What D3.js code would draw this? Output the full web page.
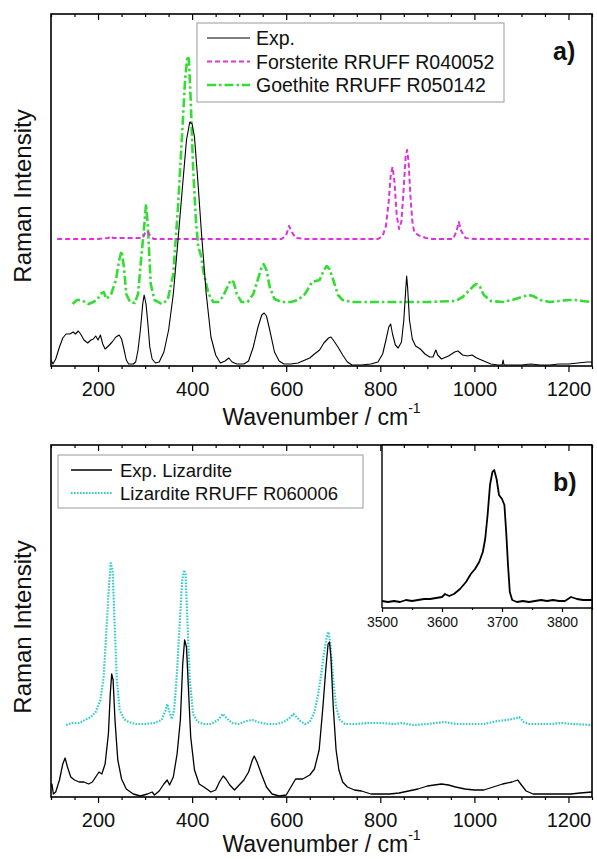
<!DOCTYPE html>
<html>
<head>
<meta charset="utf-8">
<script src="https://cdn.jsdelivr.net/npm/d3@7/dist/d3.min.js"></script>
<style>
  html, body { margin: 0; padding: 0; background: #fff; }
  svg { display: block; }
  text { font-family: Arial, "Liberation Sans", sans-serif; fill: #111; }
</style>
</head>
<body>
<svg id="chart" width="597" height="859"></svg>
<script>
// ---- Panel a): experimental spectrum and RRUFF references (wavenumber, intensity a.u.)
const expA = [
  [100,6],[104,2],[110,7],[118,19],[125,28],[132,32],[140,32],[147,34],[152,32],[158,35],[163,32],[170,26],
  [178,23],[185,26],[190,27],[195,30],[200,26],[205,31],[210,22],[215,17],[222,20],[230,24],[238,29],[245,31],
  [250,27],[255,17],[260,6],[265,2],[275,2],[280,4],[285,16],[290,36],[295,62],[298,71],[302,62],[306,42],
  [310,19],[315,7],[322,3],[330,4],[340,14],[350,36],[360,72],[370,126],[380,182],[388,226],[395,244],[400,242],
  [405,229],[412,186],[420,132],[430,72],[440,29],[450,11],[460,3],[470,5],[478,8],[485,4],[495,2],[510,2],
  [520,5],[530,19],[540,39],[548,51],[553,53],[558,50],[565,36],[575,14],[585,5],[595,2],[610,2],[625,3],
  [640,6],[650,8],[660,12],[671,16],[680,23],[690,28],[695,29],[700,26],[710,19],[720,11],[730,4],[740,1],
  [760,1],[780,2],[795,4],[805,12],[812,26],[818,39],[822,42],[826,32],[832,21],[838,18],[845,24],[850,46],
  [854,76],[856,90],[858,79],[862,46],[868,27],[875,20],[885,17],[895,12],[905,9],[912,9],[918,16],[922,11],
  [930,7],[945,10],[958,14],[965,15],[975,11],[985,10],[995,11],[1005,8],[1020,5],[1035,2],[1050,1],[1059,1],
  [1061,6],[1063,1],[1080,1],[1100,1],[1120,2],[1140,1],[1160,1],[1180,2],[1200,2],[1220,3],[1240,4],[1250,4]
];
const forsterite = [
  [113,127],[200,127],[222,128],[227,130],[232,128],[295,128],[300,133],[305,135],[310,131],[318,127],[590,127],
  [600,131],[606,140],[612,134],[620,128],[640,127],[795,127],[805,130],[812,140],[818,165],[822,190],[826,199],
  [830,185],[835,150],[840,137],[845,145],[850,180],[854,210],[857,216],[860,205],[864,170],[868,145],[872,134],
  [880,131],[897,128],[910,127],[955,127],[962,135],[967,144],[972,135],[981,128],[1000,127],[1250,127]
];
const goethite = [
  [146,62],[155,66],[165,66],[172,64],[180,62],[190,64],[198,66],[205,72],[212,74],[218,67],[228,72],[238,86],
  [245,106],[250,115],[255,99],[260,72],[268,64],[278,63],[285,72],[292,109],[298,139],[302,162],[306,139],
  [312,82],[320,66],[335,62],[348,66],[360,92],[370,159],[378,226],[385,286],[390,310],[393,307],[397,266],
  [402,199],[408,146],[413,119],[418,112],[425,92],[435,72],[445,64],[455,64],[465,69],[475,79],[482,86],
  [488,84],[495,72],[505,64],[518,64],[530,72],[540,87],[548,99],[552,102],[558,96],[565,79],[575,67],[590,64],
  [610,64],[625,66],[640,72],[655,84],[671,86],[680,96],[686,100],[692,97],[700,86],[710,71],[720,66],[740,64],
  [800,64],[900,64],[960,65],[975,69],[990,76],[1000,81],[1005,82],[1012,79],[1020,71],[1035,65],[1060,64],
  [1080,66],[1100,69],[1115,71],[1125,70],[1140,66],[1160,64],[1180,65],[1200,66],[1215,66],[1230,65],[1250,64]
];

// ---- Panel b): lizardite
const expB = [
  [100,10],[102,13],[105,3],[110,5],[118,17],[125,33],[130,39],[135,30],[142,20],[150,17],[160,15],[170,15],
  [180,13],[188,15],[195,20],[202,25],[208,23],[215,33],[222,63],[226,103],[229,123],[232,117],[236,77],[242,37],
  [250,18],[260,8],[275,3],[290,1],[305,3],[315,5],[320,2],[330,6],[340,13],[347,17],[352,12],[360,20],[368,43],
  [375,77],[380,133],[384,157],[388,150],[392,110],[397,60],[405,27],[415,13],[425,10],[440,5],[450,7],[458,15],
  [466,21],[472,18],[480,12],[490,7],[500,12],[510,17],[520,25],[528,37],[532,41],[538,35],[548,22],[558,10],
  [570,3],[585,1],[600,2],[610,10],[620,18],[635,18],[650,22],[660,28],[670,47],[678,90],[684,127],[689,153],
  [692,155],[695,140],[700,90],[706,47],[712,27],[720,15],[730,10],[745,7],[760,6],[780,3],[800,3],[820,3],
  [840,4],[860,6],[880,8],[900,11],[915,12],[930,13],[945,12],[960,10],[980,8],[1000,7],[1020,7],[1040,10],
  [1060,13],[1080,15],[1092,17],[1100,12],[1110,6],[1125,3],[1145,3],[1165,3],[1185,3],[1205,3],[1225,4],[1250,5]
];
const lizardite = [
  [132,72],[145,74],[160,74],[172,77],[185,80],[195,85],[205,97],[212,120],[218,167],[223,210],[227,234],
  [231,227],[235,177],[240,117],[246,87],[255,78],[265,75],[280,73],[300,73],[320,74],[335,77],[343,86],[347,93],
  [352,85],[357,78],[362,88],[368,127],[374,177],[379,217],[383,227],[386,223],[390,177],[395,117],[402,83],
  [412,75],[425,73],[440,73],[455,77],[465,83],[475,78],[485,74],[500,73],[515,76],[528,77],[540,75],[560,73],
  [580,73],[595,75],[605,78],[615,83],[622,80],[630,76],[640,73],[650,75],[660,85],[668,103],[675,125],[680,143],
  [686,160],[690,165],[694,153],[700,117],[706,90],[714,77],[725,73],[750,73],[775,74],[800,74],[830,73],
  [845,74],[870,72],[900,73],[935,75],[960,73],[990,73],[1020,73],[1050,76],[1070,77],[1090,79],[1095,80],
  [1105,75],[1115,73],[1140,73],[1165,73],[1185,74],[1210,73],[1250,72]
];
// O-H stretching region (inset)
const expOH = [
  [3500,7],[3510,6],[3520,7],[3530,6],[3540,8],[3550,7],[3560,8],[3570,9],[3580,9],[3590,10],[3600,11],
  [3605,14],[3612,12],[3620,14],[3630,19],[3640,26],[3648,34],[3655,39],[3662,46],[3668,56],[3672,69],[3676,93],
  [3680,123],[3684,136],[3687,138],[3691,129],[3695,113],[3700,109],[3704,103],[3707,76],[3710,43],[3713,16],
  [3717,8],[3725,6],[3735,7],[3745,6],[3755,7],[3765,8],[3775,7],[3785,8],[3795,7],[3805,7],[3815,11],[3825,9],
  [3835,8],[3850,8]
];

// Axis ticks and labels
const xDomain = [100, 1250];
const xMajor = [200, 400, 600, 800, 1000, 1200];
const xMinor = d3.range(100, 1251, 50).filter(v => !xMajor.includes(v));
const insetDomain = [3500, 3850];
const insetMajor = [3500, 3600, 3700, 3800];
const insetMinor = [3550, 3650, 3750, 3850];
const yTitle = "Raman Intensity";

// Series styles
const styles = {
  exp:   { stroke: "#000", width: 1.1, dash: null },
  fo:    { stroke: "#dd33dd", width: 2, dash: "5,3" },
  goe:   { stroke: "#33dd33", width: 2.6, dash: "9,3,2.5,3" },
  liz:   { stroke: "#33cccc", width: 2.2, dash: "1.6,1.4" }
};

const svg = d3.select("#chart");
const L = 51, R = 592;
const x = d3.scaleLinear().domain(xDomain).range([L, R]);
const line = (xs, ys) => d3.line().x(d => xs(d[0])).y(d => ys(d[1])).curve(d3.curveLinear);

function drawSeries(g, data, xs, ys, st) {
  const p = g.append("path").datum(data)
    .attr("d", line(xs, ys))
    .attr("fill", "none")
    .attr("stroke", st.stroke)
    .attr("stroke-width", st.width)
    .attr("stroke-linejoin", "round");
  if (st.dash) p.attr("stroke-dasharray", st.dash);
}

function styleAxis(g) {
  g.select(".domain").remove();
  g.selectAll("line").attr("stroke", "#000").attr("stroke-width", 1.2);
  g.selectAll("text").attr("font-size", 20).attr("fill", "#111")
    .attr("font-family", "Arial, 'Liberation Sans', sans-serif");
}

function panel(top, bottom, id, series, label, legendItems, legendBox, yDomain, titleOffset) {
  const y = d3.scaleLinear().domain(yDomain).range([bottom, top]);
  const g = svg.append("g");

  g.append("clipPath").attr("id", "clip-" + id)
    .append("rect").attr("x", L).attr("y", top).attr("width", R - L).attr("height", bottom - top);

  const plot = g.append("g").attr("clip-path", `url(#clip-${id})`);
  series.forEach(s => drawSeries(plot, s.data, x, y, s.style));

  // bottom axis: outward ticks
  g.append("g").attr("transform", `translate(0,${bottom})`)
    .call(d3.axisBottom(x).tickValues(xMinor).tickSize(3).tickFormat(""))
    .call(styleAxis);
  g.append("g").attr("transform", `translate(0,${bottom})`)
    .call(d3.axisBottom(x).tickValues(xMajor).tickSize(6).tickPadding(10).tickFormat(d3.format("d")))
    .call(styleAxis);
  // mirrored top axis: inward ticks
  g.append("g").attr("transform", `translate(0,${top})`)
    .call(d3.axisBottom(x).tickValues(xMinor).tickSize(3).tickFormat(""))
    .call(styleAxis);
  g.append("g").attr("transform", `translate(0,${top})`)
    .call(d3.axisBottom(x).tickValues(xMajor).tickSize(6).tickFormat(""))
    .call(styleAxis);

  // frame
  g.append("rect").attr("x", L).attr("y", top).attr("width", R - L).attr("height", bottom - top)
    .attr("fill", "none").attr("stroke", "#000").attr("stroke-width", 1.6);

  // axis titles
  const xt = g.append("text").attr("x", (L + R) / 2).attr("y", bottom + titleOffset)
    .attr("text-anchor", "middle").attr("dominant-baseline", "central").attr("font-size", 23);
  xt.append("tspan").text("Wavenumber / cm");
  xt.append("tspan").attr("font-size", 14).attr("dy", -9).text("-1");
  g.append("text")
    .attr("transform", `translate(22,${(top + bottom) / 2 + 6}) rotate(-90)`)
    .attr("text-anchor", "middle").attr("dominant-baseline", "central")
    .attr("font-size", 24).text(yTitle);

  // panel tag
  g.append("text").attr("x", 553).attr("y", top + 37).attr("font-size", 25)
    .attr("font-weight", "bold").attr("dominant-baseline", "central").text(label);

  // legend
  const lg = g.append("g");
  lg.append("rect").attr("x", legendBox.x).attr("y", legendBox.y)
    .attr("width", legendBox.w).attr("height", legendBox.h)
    .attr("fill", "#fff").attr("stroke", "#9a9a9a").attr("stroke-width", 1);
  legendItems.forEach((it, i) => {
    const cy = legendBox.y + legendBox.first + i * legendBox.step;
    lg.append("line").attr("x1", legendBox.x1).attr("x2", legendBox.x2)
      .attr("y1", cy).attr("y2", cy)
      .attr("stroke", it.style.stroke).attr("stroke-width", it.style.width)
      .attr("stroke-dasharray", it.style.dash);
    lg.append("text").attr("x", legendBox.tx).attr("y", cy)
      .attr("dominant-baseline", "central").attr("font-size", legendBox.fs).text(it.name);
  });
  return { g, y };
}

// Panel a)
panel(14, 366, "a",
  [
    { data: goethite, style: styles.goe },
    { data: forsterite, style: styles.fo },
    { data: expA, style: styles.exp }
  ],
  "a)",
  [
    { name: "Exp.", style: styles.exp },
    { name: "Forsterite RRUFF R040052", style: styles.fo },
    { name: "Goethite RRUFF R050142", style: styles.goe }
  ],
  { x: 197, y: 23, w: 307, h: 79, first: 15, step: 23.5, x1: 207, x2: 250, tx: 256, fs: 19.5 },
  [0, 352], 51
);

// Panel b)
panel(445, 797, "b",
  [
    { data: lizardite, style: styles.liz },
    { data: expB, style: { stroke: "#000", width: 1.3, dash: null } }
  ],
  "b)",
  [
    { name: "Exp. Lizardite", style: { stroke: "#000", width: 1.3, dash: null } },
    { name: "Lizardite RRUFF R060006", style: styles.liz }
  ],
  { x: 58, y: 455, w: 305, h: 53, first: 15, step: 23, x1: 71, x2: 112, tx: 120, fs: 18.5 },
  [0, 352], 47
);

// Inset: O-H stretching region
(function inset() {
  const iL = 382, iR = 592, iT = 445, iB = 608;
  const xi = d3.scaleLinear().domain(insetDomain).range([iL, iR]);
  const yi = d3.scaleLinear().domain([0, 163]).range([iB, iT]);
  const g = svg.append("g");
  g.append("rect").attr("x", iL).attr("y", iT).attr("width", iR - iL).attr("height", iB - iT)
    .attr("fill", "#fff");
  g.append("clipPath").attr("id", "clip-inset")
    .append("rect").attr("x", iL).attr("y", iT).attr("width", iR - iL).attr("height", iB - iT);
  g.append("g").attr("clip-path", "url(#clip-inset)")
    .call(s => drawSeries(s, expOH, xi, yi, { stroke: "#000", width: 1.8, dash: null }));
  g.append("g").attr("transform", `translate(0,${iB})`)
    .call(d3.axisBottom(xi).tickValues(insetMinor).tickSize(2).tickFormat(""))
    .call(styleAxis);
  g.append("g").attr("transform", `translate(0,${iB})`)
    .call(d3.axisBottom(xi).tickValues(insetMajor).tickSize(4).tickPadding(5).tickFormat(d3.format("d")))
    .call(styleAxis)
    .call(a => a.selectAll("text").attr("font-size", 14));
  g.append("line").attr("x1", iL).attr("x2", iR).attr("y1", iB).attr("y2", iB)
    .attr("stroke", "#000").attr("stroke-width", 1.4);
  g.append("line").attr("x1", iL).attr("x2", iL).attr("y1", iT).attr("y2", iB)
    .attr("stroke", "#000").attr("stroke-width", 1.4);
  // main top ticks over the inset region
  svg.append("g").attr("transform", `translate(0,${iT})`)
    .call(d3.axisBottom(x).tickValues(xMinor.filter(v => x(v) > iL)).tickSize(3).tickFormat(""))
    .call(styleAxis);
  svg.append("g").attr("transform", `translate(0,${iT})`)
    .call(d3.axisBottom(x).tickValues(xMajor.filter(v => x(v) > iL)).tickSize(6).tickFormat(""))
    .call(styleAxis);
  svg.append("line").attr("x1", iL).attr("x2", iR).attr("y1", iT).attr("y2", iT)
    .attr("stroke", "#000").attr("stroke-width", 1.6);
  svg.append("line").attr("x1", iR).attr("x2", iR).attr("y1", iT).attr("y2", iB)
    .attr("stroke", "#000").attr("stroke-width", 1.6);
  // panel tag sits above the inset
  svg.append("text").attr("x", 553).attr("y", 445 + 37).attr("font-size", 25)
    .attr("font-weight", "bold").attr("dominant-baseline", "central").text("b)");
})();
</script>
</body>
</html>
